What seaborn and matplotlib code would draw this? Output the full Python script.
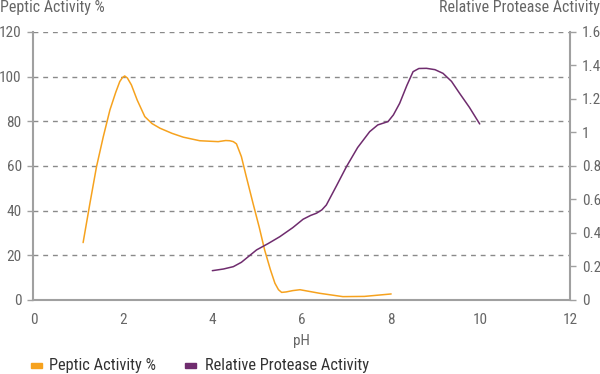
import numpy as np
import pandas as pd
import matplotlib
matplotlib.use('Agg')
import matplotlib.pyplot as plt
import seaborn as sns

# Peptic activity (%)
peptic_ph = [1.11, 1.26, 1.41, 1.56, 1.71, 1.84, 1.93, 1.99, 2.04, 2.10, 2.19, 2.32, 2.49,
             2.65, 2.83, 3.10, 3.35, 3.72, 4.13, 4.30, 4.39, 4.47, 4.54, 4.65, 4.75, 4.91,
             5.05, 5.17, 5.30, 5.40, 5.48, 5.55, 5.65, 5.80, 5.96, 6.40, 6.92, 7.40, 8.0]
peptic_val = [25.7, 43.0, 59.7, 73.0, 85.1, 93.0, 97.8, 99.6, 100.3, 99.4, 96.3, 89.5, 82.1,
              79.0, 76.9, 74.6, 72.9, 71.3, 70.9, 71.4, 71.3, 70.9, 69.9, 64.2, 56.0, 43.3,
              32.5, 22.4, 13.5, 7.5, 4.6, 3.4, 3.6, 4.2, 4.6, 3.0, 1.5, 1.6, 2.7]

# Relative protease activity
protease_ph = [4.0, 4.25, 4.47, 4.65, 4.99, 5.25, 5.51, 5.80, 6.03, 6.20, 6.33, 6.45, 6.55,
               6.78, 7.0, 7.25, 7.52, 7.70, 7.93, 8.05, 8.19, 8.35, 8.49, 8.62, 8.79, 8.98,
               9.16, 9.35, 9.53, 9.75, 9.98]
protease_val = [0.175, 0.185, 0.199, 0.225, 0.299, 0.337, 0.378, 0.432, 0.482, 0.505, 0.518,
                0.538, 0.567, 0.683, 0.796, 0.910, 1.005, 1.045, 1.065, 1.105, 1.174, 1.280,
                1.363, 1.382, 1.383, 1.375, 1.353, 1.305, 1.234, 1.150, 1.051]

left_ticks = [0, 20, 40, 60, 80, 100, 120]
right_ticks = [0, 0.2, 0.4, 0.6, 0.8, 1.0, 1.2, 1.4, 1.6]
x_ticks = [0, 2, 4, 6, 8, 10, 12]

orange = '#F6A21E'
purple = '#6F2C6E'
grey = '#666666'

sns.set_style('white')
plt.rcParams['font.family'] = ['Roboto Condensed', 'DejaVu Sans']

fig = plt.figure(figsize=(6, 3.74), dpi=100)
ax = fig.add_axes([0.0558, 0.1979, 0.8942, 0.7166])
ax2 = ax.twinx()

df1 = pd.DataFrame({'pH': peptic_ph, 'val': peptic_val})
df2 = pd.DataFrame({'pH': protease_ph, 'val': protease_val})
sns.lineplot(data=df1, x='pH', y='val', ax=ax, color=orange, linewidth=1.1, sort=False)
sns.lineplot(data=df2, x='pH', y='val', ax=ax2, color=purple, linewidth=1.1, sort=False)

ax.set_xlim(0, 12)
ax.set_ylim(0, 120)
ax2.set_ylim(0, 1.6)
ax.set_xticks(x_ticks)
ax.set_yticks(left_ticks)
ax2.set_yticks(right_ticks)
ax2.set_yticklabels(['%g' % t for t in right_ticks])

for y in left_ticks[1:]:
    ax.axhline(y, color='#8a8a8a', linewidth=1, linestyle=(0, (3.5, 3.5)), zorder=0)

for a in (ax, ax2):
    a.set_xlabel('')
    a.set_ylabel('')
    a.spines['top'].set_visible(False)
    for s in a.spines.values():
        s.set_color('#a0a0a0')
        s.set_linewidth(1.5)
    a.tick_params(colors=grey, labelsize=11, length=4, width=1, direction='out',
                  color='#a0a0a0', pad=4.5)
ax.tick_params(axis='x', pad=5.5)
ax.spines['right'].set_visible(False)
ax2.spines['left'].set_visible(False)
ax2.spines['bottom'].set_visible(False)

ax.set_xlabel('pH', color=grey, fontsize=11, va='baseline')
ax.xaxis.set_label_coords(0.5, -0.168)

fig.text(0.0, 0.969, 'Peptic Activity %', color=grey, fontsize=11.5, ha='left', va='baseline')
fig.text(0.999, 0.969, 'Relative Protease Activity', color=grey, fontsize=11.5,
         ha='right', va='baseline')

# legend
rect_x = [0.0512, 0.309]
text_x = [0.0822, 0.3417]
labels = ['Peptic Activity %', 'Relative Protease Activity']
for rx, tx, c, lab in zip(rect_x, text_x, [orange, purple], labels):
    fig.patches.append(plt.Rectangle((rx, 0.0152), 0.0183, 0.0134, color=c,
                                     transform=fig.transFigure, figure=fig))
    fig.text(tx, 0.0094, lab, color='#333333', fontsize=11.8, ha='left', va='baseline')

fig.savefig('out.png', dpi=100, facecolor='white')
